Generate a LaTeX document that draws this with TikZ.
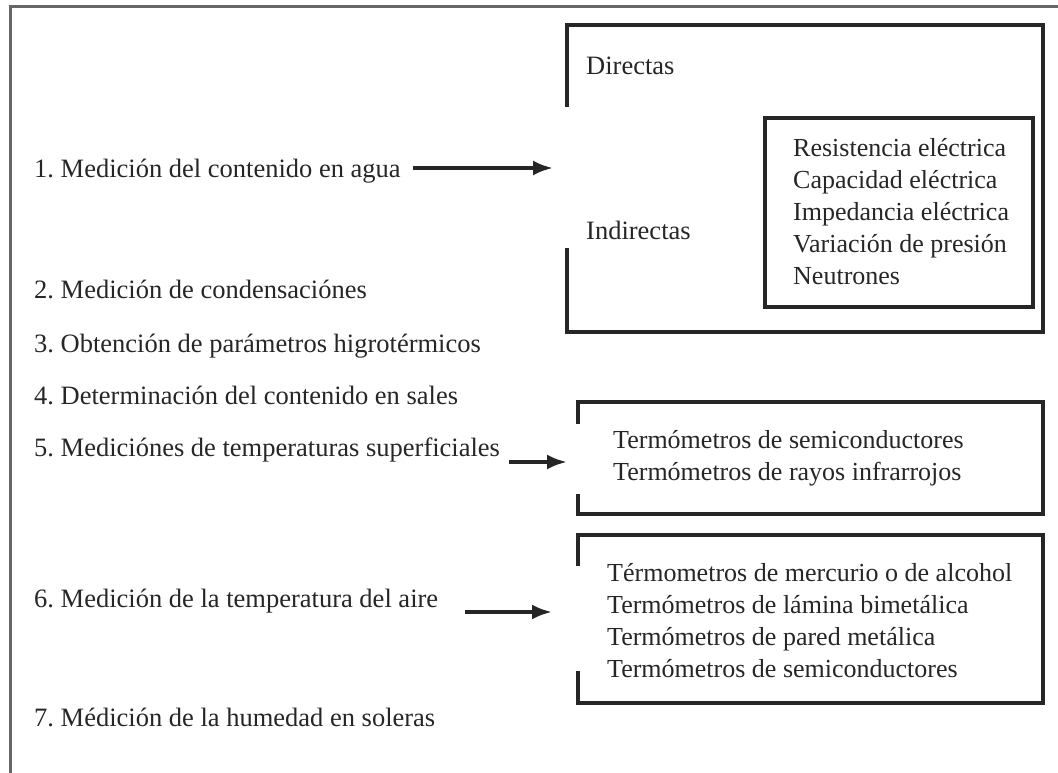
\documentclass[tikz,border=0pt]{standalone}
\usepackage{fontspec}
\setmainfont{Liberation Serif}
\usetikzlibrary{arrows.meta}
\tikzset{
  lbl/.style={anchor=mid west, inner sep=0pt, font=\fontsize{26.5}{32}\selectfont\frenchspacing, text=black!85},
  lst/.style={anchor=west, inner sep=0pt, align=left, font=\fontsize{26}{32}\selectfont, text=black!85},
  frame/.style={line width=3pt, draw=black!60},
  boxline/.style={line width=3.4pt, draw=black!85, line cap=rect},
  arr/.style={line width=3.6pt, draw=black!85, -{Latex[length=20pt,width=15pt]}}
}
\begin{document}
\begin{tikzpicture}[x=1pt,y=-1pt]
\useasboundingbox (0,0) rectangle (1058,773);
% outer frame
\draw[frame] (10,780) -- (10,7) -- (1065,7);
% left items
\node[lbl] (t1) at (34,175) {1. Medición del contenido en agua};
\node[lbl] (t2) at (34,296) {2. Medición de condensaciónes};
\node[lbl] (t3) at (34,350) {3. Obtención de parámetros higrotérmicos};
\node[lbl] (t4) at (34,402) {4. Determinación del contenido en sales};
\node[lbl] (t5) at (34,454) {5. Mediciónes de temperaturas superficiales};
\node[lbl] (t6) at (34,605) {6. Medición de la temperatura del aire};
\node[lbl] (t7) at (34,724) {7. Médición de la humedad en soleras};
% box 1
\draw[boxline] (567,105) -- (567,25) -- (1043,25) -- (1043,332) -- (567,332) -- (567,250);
\node[lbl] (dir) at (586,72) {Directas};
\node[lbl] (ind) at (586,237) {Indirectas};
\draw[boxline] (765,118) rectangle (1033,307);
\node[lst] (l1) at (793,212) {Resistencia eléctrica\\Capacidad eléctrica\\Impedancia eléctrica\\Variación de presión\\Neutrones};
% box 2
\draw[boxline] (578,422) -- (578,402) -- (1043,402) -- (1043,514) -- (578,514) -- (578,496);
\node[lst] (l2) at (613,458) {Termómetros de semiconductores\\Termómetros de rayos infrarrojos};
% box 3
\draw[boxline] (578,564) -- (578,535) -- (1043,535) -- (1043,703) -- (578,703) -- (578,673);
\node[lst] (l3) at (607,621) {Térmometros de mercurio o de alcohol\\Termómetros de lámina bimetálica\\Termómetros de pared metálica\\Termómetros de semiconductores};
% arrows
\coordinate (a1s) at (413,168);
\coordinate (a1e) at (553,168);
\coordinate (a5s) at (509,462);
\coordinate (a5e) at (567,462);
\coordinate (a6s) at (465,612);
\coordinate (a6e) at (552,612);
\draw[arr] (a1s) -- (a1e);
\draw[arr] (a5s) -- (a5e);
\draw[arr] (a6s) -- (a6e);
\end{tikzpicture}
\end{document}
